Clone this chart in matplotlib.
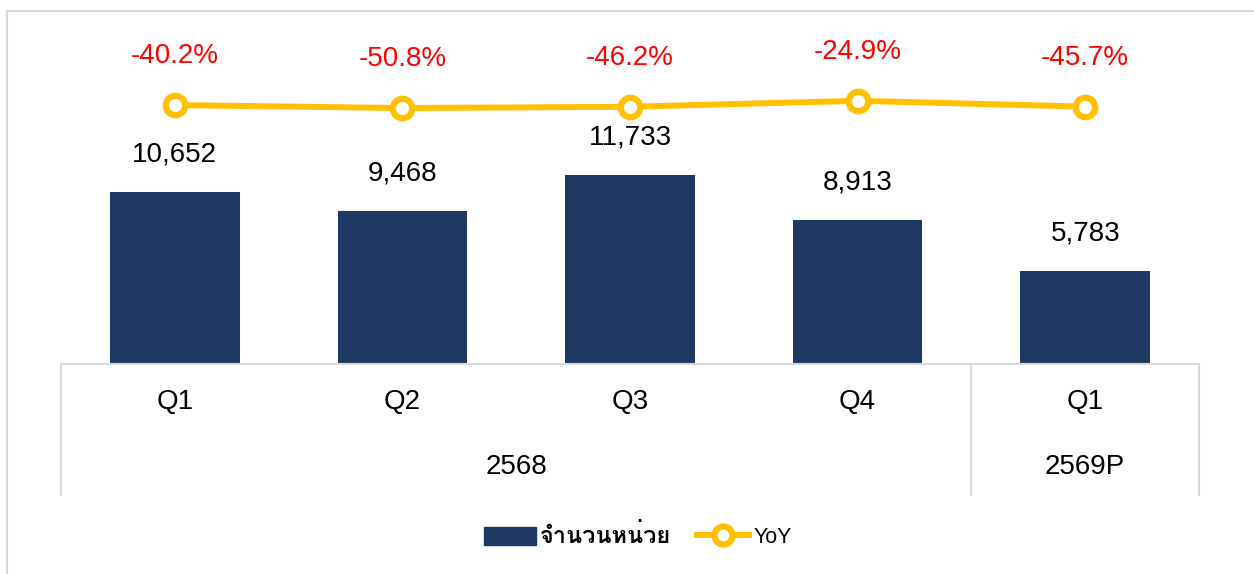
#!/usr/bin/env python3
"""Quarterly units (bars) with YoY change (line) on a two-level category axis."""
import matplotlib
matplotlib.use("Agg")
import matplotlib.pyplot as plt
from matplotlib import font_manager, ft2font
from matplotlib.lines import Line2D
from matplotlib.patches import Patch, Rectangle
import matplotlib.transforms as mtransforms

QUARTERS = ["Q1", "Q2", "Q3", "Q4", "Q1"]
YEARS = ["2568", "2569P"]
YEAR_SPAN = [4, 1]  # number of quarters under each year
UNITS = [10652, 9468, 11733, 8913, 5783]
YOY = [-40.2, -50.8, -46.2, -24.9, -45.7]
UNITS_LABEL = "จำนวนหน่วย"
YOY_LABEL = "YoY"

BAR_COLOR = "#203864"
LINE_COLOR = "#FFC000"
GRID_GRAY = "#D9D9D9"

plt.rcParams["font.family"] = ["Liberation Sans", "DejaVu Sans"]


def thai_family():
    # first installed family that has Thai glyphs
    for f in font_manager.fontManager.ttflist:
        try:
            if 0x0E08 in ft2font.FT2Font(f.fname).get_charmap():
                return f.name
        except Exception:
            pass
    return "DejaVu Sans"


def main():
    W, H = 1254, 574
    fig = plt.figure(figsize=(W / 100, H / 100), dpi=100)
    # outer chart frame (clipped at right/bottom like the source)
    fig.patches.append(Rectangle((7 / W, -0.1), 1.2, 1 - 11 / H + 0.1,
                                 transform=fig.transFigure, fill=False,
                                 edgecolor=GRID_GRAY, linewidth=1.5))

    left, right, bottom, top = 61, 1199, 364, 30
    ax = fig.add_axes([left / W, 1 - bottom / H, (right - left) / W,
                       (bottom - top) / H])
    x = list(range(len(UNITS)))
    ax.bar(x, UNITS, width=0.57, color=BAR_COLOR, zorder=2)
    ax.set_xlim(-0.5, len(UNITS) - 0.5)
    ax.set_ylim(0, 20694)
    for xi, v in zip(x, UNITS):
        ax.annotate(f"{v:,}", (xi, v), xytext=(0, 27), textcoords="offset points",
                    ha="center", va="center", fontsize=20, color="black")

    for s in ["top", "right", "left"]:
        ax.spines[s].set_visible(False)
    ax.spines["bottom"].set_color(GRID_GRAY)
    ax.spines["bottom"].set_linewidth(1.5)
    ax.set_yticks([])
    ax.set_xticks([])

    # two-level category axis
    trans = mtransforms.blended_transform_factory(ax.transData, ax.transAxes)
    h = bottom - top
    line_end = -(495 - bottom) / h
    q_y = -(402 - bottom) / h
    yr_y = -(467 - bottom) / h
    for xi, q in zip(x, QUARTERS):
        ax.text(xi, q_y, q, transform=trans, ha="center", va="center",
                fontsize=20)
    start = 0
    bounds = [-0.5]
    for yr, n in zip(YEARS, YEAR_SPAN):
        ax.text(start + (n - 1) / 2, yr_y, yr, transform=trans, ha="center",
                va="center", fontsize=20)
        start += n
        bounds.append(start - 0.5)
    for b in bounds:
        ax.plot([b, b], [0, line_end], transform=trans, color=GRID_GRAY,
                linewidth=1.5, clip_on=False)

    ax2 = ax.twinx()
    ax2.plot(x, YOY, color=LINE_COLOR, linewidth=4.3, marker="o",
             markersize=14, markerfacecolor="white", markeredgecolor=LINE_COLOR,
             markeredgewidth=4.5, zorder=3)
    ax2.set_ylim(-965, 228)
    ax2.set_yticks([])
    for s in ["top", "right", "left", "bottom"]:
        ax2.spines[s].set_visible(False)
    for xi, v in zip(x, YOY):
        ax2.annotate(f"{v:.1f}%", (xi, v), xytext=(0, 35),
                     textcoords="offset points", ha="center", va="center",
                     fontsize=20, color="#FF0000")

    handles = [
        Patch(facecolor=BAR_COLOR, edgecolor=BAR_COLOR),
        Line2D([0], [0], color=LINE_COLOR, linewidth=4.3, marker="o",
               markersize=13, markerfacecolor="white",
               markeredgecolor=LINE_COLOR, markeredgewidth=4.5),
    ]
    leg = fig.legend(handles, [UNITS_LABEL, YOY_LABEL], loc="center",
                     bbox_to_anchor=(638 / W, 1 - 536 / H), ncol=2,
                     frameon=False, fontsize=15.5, handlelength=2.4,
                     handleheight=0.9, columnspacing=1.2, handletextpad=0.2)
    leg.get_texts()[0].set_fontfamily([thai_family(), "DejaVu Sans"])
    leg.get_texts()[0].set_fontweight("bold")
    leg.get_texts()[0].set_fontsize(17)

    fig.savefig("out.png", dpi=100)


if __name__ == "__main__":
    main()
